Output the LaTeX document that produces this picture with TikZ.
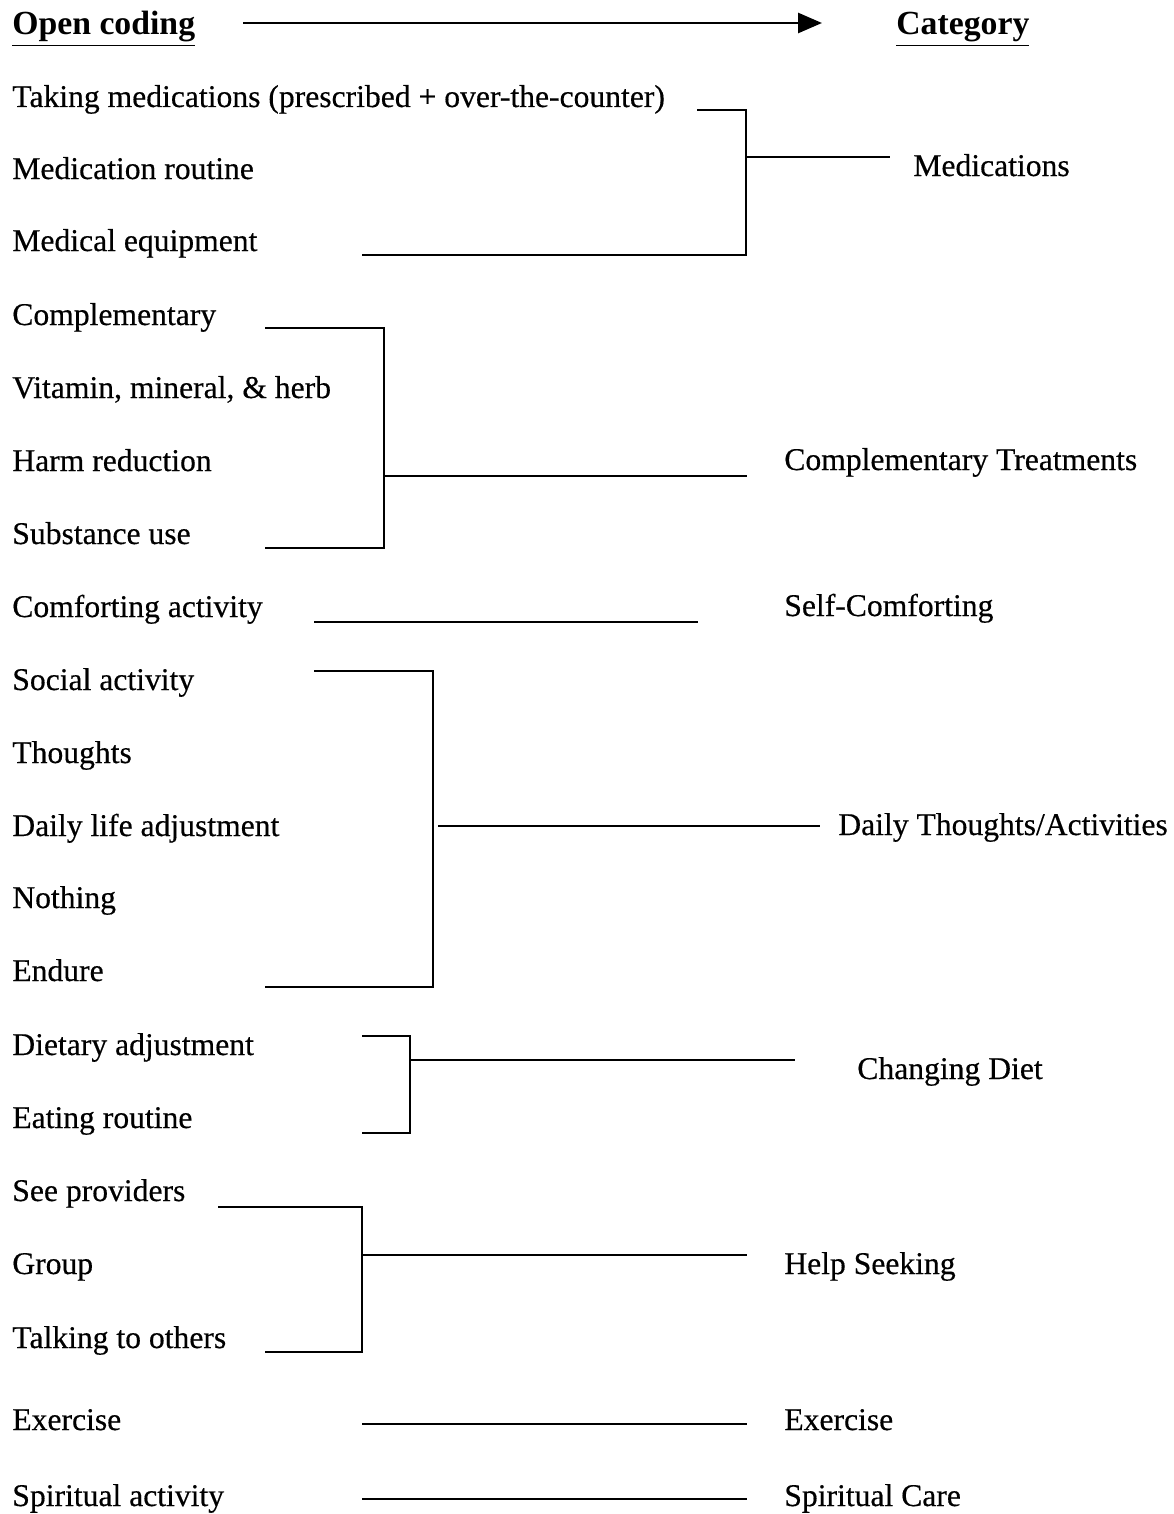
\documentclass[tikz,border=0pt]{standalone}
\usepackage{fontspec}
\setmainfont{Liberation Serif}
\newfontfamily\scanfont[FakeBold=0.4]{Liberation Serif}
\usetikzlibrary{arrows.meta}
\tikzset{
    item/.style = {anchor=base west, inner sep=0pt, font=\scanfont\fontsize{18}{20}\selectfont},
    head/.style = {anchor=base west, inner sep=0pt, font=\bfseries\fontsize{19.2}{21}\selectfont},
    link/.style = {line width=1.3pt},
}
\begin{document}
\begin{tikzpicture}[x=0.02cm, y=-0.02cm]
    \useasboundingbox (0,0) rectangle (1173,1514);
    % header
    \draw(12, 35) node [head](open){\underline{Open coding}};
    \draw(896, 35) node [head](cat){\underline{Category}};
    \coordinate (a0) at (243, 23);
    \coordinate (a1) at (822, 23);
    \draw[line width=1.6pt, -{Triangle[length=0.48cm, width=0.4cm]}] (a0) -- (a1);

    % open codes
    \draw(12, 107) node [item](c1){Taking medications (prescribed + over-the-counter)};
    \draw(12, 179) node [item](c2){Medication routine};
    \draw(12, 251) node [item](c3){Medical equipment};
    \draw(12, 325) node [item](c4){Complementary};
    \draw(12, 398) node [item](c5){Vitamin, mineral, \& herb};
    \draw(12, 471) node [item](c6){Harm reduction};
    \draw(12, 544) node [item](c7){Substance use};
    \draw(12, 617) node [item](c8){Comforting activity};
    \draw(12, 690) node [item](c9){Social activity};
    \draw(12, 763) node [item](c10){Thoughts};
    \draw(12, 836) node [item](c11){Daily life adjustment};
    \draw(12, 908) node [item](c12){Nothing};
    \draw(12, 981) node [item](c13){Endure};
    \draw(12, 1055) node [item](c14){Dietary adjustment};
    \draw(12, 1128) node [item](c15){Eating routine};
    \draw(12, 1201) node [item](c16){See providers};
    \draw(12, 1274) node [item](c17){Group};
    \draw(12, 1348) node [item](c18){Talking to others};
    \draw(12, 1430) node [item](c19){Exercise};
    \draw(12, 1506) node [item](c20){Spiritual activity};

    % categories
    \draw(913, 176) node [item](k1){Medications};
    \draw(784, 470) node [item](k2){Complementary Treatments};
    \draw(784, 616) node [item](k3){Self-Comforting};
    \draw(838, 835) node [item](k4){Daily Thoughts/Activities};
    \draw(857, 1079) node [item](k5){Changing Diet};
    \draw(784, 1274) node [item](k6){Help Seeking};
    \draw(784, 1430) node [item](k7){Exercise};
    \draw(784, 1506) node [item](k8){Spiritual Care};

    % brackets
    \coordinate (m1) at (697, 110);
    \coordinate (m2) at (362, 255);
    \coordinate (m3) at (890, 157);
    \draw[link] (m1) -| (746, 157) |- (m2);
    \draw[link] (746, 157) -- (m3);

    \coordinate (t1) at (265, 328);
    \coordinate (t2) at (265, 548);
    \coordinate (t3) at (747, 476);
    \draw[link] (t1) -| (384, 476) |- (t2);
    \draw[link] (384, 476) -- (t3);

    \coordinate (s1) at (314, 622);
    \coordinate (s2) at (698, 622);
    \draw[link] (s1) -- (s2);

    \coordinate (d1) at (314, 671);
    \coordinate (d2) at (265, 987);
    \coordinate (d3) at (820, 826);
    \draw[link] (d1) -| (433, 826) |- (d2);
    \draw[link] (438, 826) -- (d3);

    \coordinate (e1) at (362, 1036);
    \coordinate (e2) at (362, 1133);
    \coordinate (e3) at (795, 1060);
    \draw[link] (e1) -| (410, 1060) |- (e2);
    \draw[link] (410, 1060) -- (e3);

    \coordinate (h1) at (218, 1207);
    \coordinate (h2) at (265, 1352);
    \coordinate (h3) at (747, 1255);
    \draw[link] (h1) -| (362, 1255) |- (h2);
    \draw[link] (362, 1255) -- (h3);

    \coordinate (x1) at (362, 1424);
    \coordinate (x2) at (747, 1424);
    \draw[link] (x1) -- (x2);

    \coordinate (p1) at (362, 1499);
    \coordinate (p2) at (747, 1499);
    \draw[link] (p1) -- (p2);
\end{tikzpicture}
\end{document}
